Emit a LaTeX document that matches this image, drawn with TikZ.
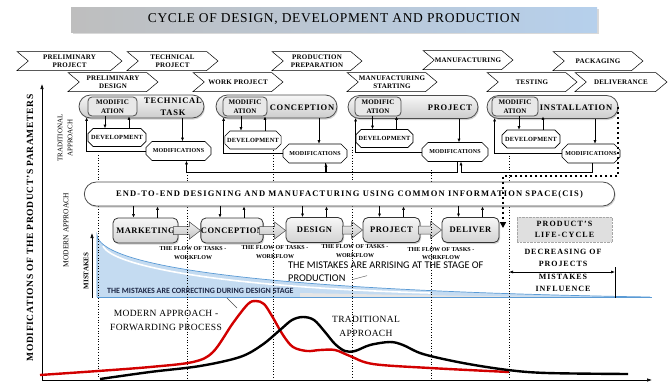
\documentclass[tikz,border=0pt]{standalone}
\usepackage{fontspec}
\setmainfont{Liberation Serif}
\newfontfamily\calfont{Carlito}
\usetikzlibrary{calc, arrows.meta, shapes.misc, shapes.symbols, shadows}

\definecolor{titlegray}{RGB}{190,190,190}
\definecolor{titleblue}{RGB}{182,208,236}
\definecolor{mistblue}{RGB}{196,219,241}
\definecolor{mistedge}{RGB}{91,155,213}
\definecolor{modred}{RGB}{210,0,0}
\definecolor{corrtext}{RGB}{30,40,70}

\newcommand\fs[2]{\fontsize{#1}{#2}\selectfont}
\newcommand\fatarrow[2]{%
  \path[flowarrow] let \p1=(#1), \p2=(#2) in
    (\x1,\y1+4pt) -- (\x2-11pt,\y1+4pt) -- (\x2-11pt,\y1+8.5pt) -- (\x2,\y1)
    -- (\x2-11pt,\y1-8.5pt) -- (\x2-11pt,\y1-4pt) -- (\x1,\y1-4pt) -- cycle;}

\tikzset{
    arr/.style={-{Latex[length=3.5pt, width=3pt]}, line width=0.6pt},
    axis/.style={-{Latex[length=5pt, width=3.5pt]}, line width=0.6pt},
    guide/.style={dotted, line width=0.7pt},
    bigdots/.style={line width=2pt, dash pattern=on 2pt off 3pt, -{Triangle[length=6pt, width=6pt]}},
    curve/.style={line width=2.4pt, line join=round},
    title/.style={left color=titlegray, right color=titleblue, minimum width=526pt, minimum height=25pt,
        drop shadow={opacity=0.3, shadow xshift=1.5pt, shadow yshift=-1.5pt},
        font=\fs{13.5}{14}\addfontfeature{LetterSpace=5}},
    stage/.style={signal, signal from=west, signal to=east, signal pointer angle=80, draw, line width=0.5pt,
        fill=white, inner sep=0.5pt, minimum height=19pt, minimum width=90pt, align=center,
        font=\bfseries\fs{7}{7.6}\addfontfeature{LetterSpace=3}},
    pill/.style={rounded rectangle, draw=gray!60!black, thick, top color=gray!6, bottom color=gray!40,
        drop shadow={opacity=0.35, shadow xshift=1pt, shadow yshift=-1.5pt}, minimum height=23pt, inner sep=0pt},
    pilltext/.style={align=center, inner sep=0pt, font=\bfseries\fs{8.5}{12}\addfontfeature{LetterSpace=9}},
    subbox/.style={rectangle, rounded corners=4pt, draw=gray!60!black, thick, fill=gray!18, minimum height=19pt,
        inner sep=0pt, align=center, font=\bfseries\fs{7}{8.5}\addfontfeature{LetterSpace=2}},
    devbox/.style={chamfered rectangle, chamfered rectangle sep=3pt, draw, line width=0.6pt, fill=white,
        minimum height=18pt, inner sep=0pt, font=\bfseries\fs{6.3}{7}\addfontfeature{LetterSpace=4}},
    modsbox/.style={chamfered rectangle, chamfered rectangle sep=4pt, draw, line width=0.6pt, fill=white,
        minimum height=19pt, inner sep=0pt, font=\bfseries\fs{6}{7}\addfontfeature{LetterSpace=2}},
    cisbox/.style={rounded rectangle, draw=gray!60!black, thick, fill=white,
        drop shadow={opacity=0.35, shadow xshift=1pt, shadow yshift=-1.5pt}, minimum height=24pt,
        font=\bfseries\fs{8.5}{9}\addfontfeature{LetterSpace=13.5}},
    task/.style={rectangle, rounded corners=5pt, draw=gray!40!black, thick, top color=gray!6, bottom color=gray!35,
        drop shadow={opacity=0.35, shadow xshift=1pt, shadow yshift=-1.5pt}, minimum height=25pt, inner sep=0pt,
        font=\bfseries\fs{8.5}{9}\addfontfeature{LetterSpace=6}},
    flowarrow/.style={draw=gray!55!black, line width=0.5pt, top color=gray!12, bottom color=gray!45},
    flowlabel/.style={align=center, inner sep=0pt, font=\bfseries\fs{6}{8.5}},
    lifebox/.style={rectangle, fill=gray!25, draw=gray!70, densely dotted, minimum width=95pt, minimum height=25pt,
        inner sep=0pt, align=center, font=\bfseries\fs{8}{11.5}\addfontfeature{LetterSpace=14}},
    curvelabel/.style={align=center, inner sep=0pt, font=\fs{9.5}{14}\addfontfeature{LetterSpace=3.5}}
}

\begin{document}
\begin{tikzpicture}[x=1pt, y=-1pt]
    \useasboundingbox (0,0) rectangle (672,389);

    % Title
    \node[title] (ttl) at (334,19.5) {CYCLE OF DESIGN, DEVELOPMENT AND PRODUCTION};

    % Stages of the cycle
    \node[stage, minimum width=105pt] (s1) at (69.5,61) {PRELIMINARY\\PROJECT};
    \node[stage, minimum width=91pt] (s2) at (172.5,61) {TECHNICAL\\PROJECT};
    \node[stage] (s3) at (317,61) {PRODUCTION\\PREPARATION};
    \node[stage] (s4) at (468,60) {MANUFACTURING};
    \node[stage] (s5) at (598,61) {PACKAGING};
    \node[stage] (s6) at (113,82) {PRELIMINARY\\DESIGN};
    \node[stage] (s7) at (238,82) {WORK PROJECT};
    \node[stage] (s8) at (392,82) {MANUFACTURING\\STARTING};
    \node[stage] (s9) at (532,82) {TESTING};
    \node[stage, minimum width=92pt] (s10) at (621,82) {DELIVERANCE};

    % Traditional approach
    \node[pill, minimum width=125pt] (trad1) at (141.5,106.5) {};
    \node[pill, minimum width=121pt] (trad2) at (276.5,106.5) {};
    \node[pill, minimum width=130pt] (trad3) at (413,107) {};
    \node[pill, minimum width=131pt] (trad4) at (552.5,107) {};
    \node[pilltext] (lab1) at (173,107) {TECHNICAL\\TASK};
    \node[pilltext] (lab2) at (302,108) {CONCEPTION};
    \node[pilltext] (lab3) at (450,108) {PROJECT};
    \node[pilltext] (lab4) at (576,108) {INSTALLATION};
    \node[subbox, minimum width=49pt] (sub1) at (112.5,106.5) {MODIFIC\\ATION};
    \node[subbox, minimum width=44pt] (sub2) at (245,106.5) {MODIFIC\\ATION};
    \node[subbox, minimum width=46pt] (sub3) at (378,106.5) {MODIFIC\\ATION};
    \node[subbox, minimum width=46pt] (sub4) at (515,106.5) {MODIFIC\\ATION};

    \node[devbox, minimum width=58pt] (dev1) at (117,137.5) {DEVELOPMENT};
    \node[devbox, minimum width=54pt] (dev2) at (253,140) {DEVELOPMENT};
    \node[devbox, minimum width=57pt] (dev3) at (384.5,138.5) {DEVELOPMENT};
    \node[devbox, minimum width=58pt] (dev4) at (531,139) {DEVELOPMENT};
    \node[modsbox, minimum width=65pt] (mods1) at (178.5,151) {MODIFICATIONS};
    \node[modsbox, minimum width=64pt] (mods2) at (315,153.5) {MODIFICATIONS};
    \node[modsbox, minimum width=66pt] (mods3) at (455,152) {MODIFICATIONS};
    \node[modsbox, minimum width=58pt] (mods4) at (591,153.5) {MODIFICATIONS};

    \foreach \i in {1,...,4}{
        \draw[arr] ($(dev\i.north |- sub\i.south)+(-12,0)$) -- ($(dev\i.north)+(-12,0)$);
        \draw[arr] ($(dev\i.north)+(12,0)$) -- ($(dev\i.north |- sub\i.south)+(12,0)$);
        \draw[arr] ($(mods\i.north |- trad\i.south)+(4,0)$) -- ($(mods\i.north)+(4,0)$);
        \draw[arr] (mods\i.west) -| ($(trad\i.west |- trad\i.south)+(8,-1)$);
    }
    \draw[arr] ($(mods2.south)+(10,0)$) -- ++(0,9) -| ($(mods1.south)+(8,0)$);
    \draw[arr] ($(mods3.south)+(2,0)$) -- ++(0,10) -| ($(mods2.south)+(11,0)$);
    \draw[arr] ($(mods4.south)+(1,0)$) -- ++(0,9) -| ($(mods3.south)+(6,0)$);

    % Mistakes
    \fill[mistblue] (97,297) -- (97,235) .. controls (100,262) and (220,290) .. (650,297) -- cycle;
    \fill[gray!20] (300,293) .. controls (400,295) and (480,296) .. (560,297) -- (300,297) -- cycle;
    \draw[white, line width=1.6pt] (103,246) .. controls (112,266) and (220,287) .. (430,293);
    \draw[mistedge, line width=0.7pt] (97,297) -- (97,235) .. controls (100,262) and (220,290) .. (650,297);
    \draw[mistedge, line width=0.7pt] (97,297) -- (652,297);

    % Modern approach
    \node[task, minimum width=65pt] (mkt) at (145.5,230.5) {MARKETING};
    \node[task, minimum width=60pt] (con) at (232,230.5) {CONCEPTION};
    \node[task, minimum width=57pt] (des) at (314.5,230) {DESIGN};
    \node[task, minimum width=57pt] (prj) at (391.5,230) {PROJECT};
    \node[task, minimum width=57pt] (dlv) at (470.5,230) {DELIVER};
    \fatarrow{$(mkt.east)+(-5,0)$}{con.west}
    \fatarrow{$(con.east)+(-4,0)$}{des.west}
    \fatarrow{$(des.east)+(-1,0)$}{prj.west}
    \fatarrow{$(prj.east)+(-2,0)$}{dlv.west}

    \foreach \gx/\gy in {98/155, 187/175, 273/150, 352/147, 431/170, 509/153}
        \draw[guide] (\gx,\gy) -- (\gx,379);

    \node[cisbox, minimum width=537pt] (cis) at (349.5,194) {END-TO-END DESIGNING AND MANUFACTURING USING COMMON INFORMATION SPACE(CIS)};
    \foreach \t in {mkt,con,des,prj,dlv}{
        \draw[arr] ($(cis.south -| \t.north)+(-12,0)$) -- ($(\t.north)+(-12,0)$);
        \draw[arr] ($(\t.north)+(12,0)$) -- ($(cis.south -| \t.north)+(12,0)$);
    }
    \node[flowlabel] (flow1) at (193,253) {THE FLOW OF TASKS -\\WORKFLOW};
    \node[flowlabel] (flow2) at (275,252) {THE FLOW OF TASKS -\\WORKFLOW};
    \node[flowlabel] (flow3) at (355,251) {THE FLOW OF TASKS -\\WORKFLOW};
    \node[flowlabel] (flow4) at (441,253.5) {THE FLOW OF TASKS -\\WORKFLOW};

    \coordinate (hd1) at (617,176);
    \coordinate (hd2) at (503,176);
    \coordinate (hd3) at (503,228);
    \draw[bigdots] (trad4.east) -- (trad4.east |- hd1) -- (hd2) -- (hd3);

    \node[anchor=north west, align=left, inner sep=0pt, font=\calfont\fs{10.3}{12.5}] (arise) at (288,262)
        {THE MISTAKES ARE ARRISING AT THE STAGE OF\\PRODUCTION};
    \draw[gray!60!black, thin] ($(arise.south west)+(64,-2)$) -- ++(15,-4);
    \node[anchor=west, inner sep=0pt, font=\calfont\bfseries\fs{8}{8}, text=corrtext] (corr) at (107,291)
        {THE MISTAKES ARE CORRECTING DURING DESIGN STAGE};
    \draw[gray!60!black, thin] (227,298) -- (237,308);

    % Product's life-cycle
    \node[lifebox] (life) at (564.5,229.5) {PRODUCT'S\\LIFE-CYCLE};
    \node[align=center, inner sep=0pt, font=\bfseries\fs{8}{12.4}\addfontfeature{LetterSpace=12}] (decr) at (563,270.5)
        {DECREASING OF\\PROJECTS\\MISTAKES\\INFLUENCE};
    \coordinate (lc1) at (509,272);
    \coordinate (lc2) at (615,272);
    \draw[{Latex[length=4pt, width=3pt]}-{Latex[length=4pt, width=3pt]}, line width=0.6pt] (lc1) -- (lc2);
    \draw[line width=0.6pt] (615,267) -- (615,298);

    % Axes and curves
    \coordinate (orig) at (42,380);
    \draw[axis] (orig) -- (42,84);
    \draw[axis] (orig) -- (652,380);
    \draw[axis] (92,298) -- (92,233);
    \node[rotate=90, inner sep=0pt, font=\bfseries\fs{7}{7}] (mistlab) at (86,271) {MISTAKES};

    \draw[curve, modred] plot[smooth, tension=0.55] coordinates {(40,375) (98,371) (150,367) (193,362) (213,352)
        (233,323) (248,304) (256,301) (264,304) (272,316) (283,335) (293,347) (307,351) (320,350) (335,350)
        (350,356) (373,364) (430,368) (509,372)};
    \draw[curve, black] plot[smooth, tension=0.55] coordinates {(100,379) (150,372) (200,366) (240,357) (262,345)
        (280,330) (292,320) (303,317) (314,320) (325,332) (335,344) (345,351) (355,351) (370,345) (390,342)
        (403,345) (423,354) (463,363) (508,370) (547,373) (628,374)};

    \node[curvelabel] (modlab) at (166,320) {MODERN APPROACH -\\FORWARDING PROCESS};
    \node[curvelabel] (tradlab) at (366,326) {TRADITIONAL\\APPROACH};

    \node[rotate=90, inner sep=0pt, font=\bfseries\fs{9.5}{10}\addfontfeature{LetterSpace=7}] (ylab) at (30,228)
        {MODIFICATIONS OF THE PRODUCT'S PARAMETERS};
    \node[rotate=90, align=center, inner sep=0pt, font=\fs{7}{10}] (tradap) at (65,138) {TRADITIONAL\\APPROACH};
    \node[rotate=90, inner sep=0pt, font=\fs{7.5}{8}] (modap) at (66,230) {MODERN APPROACH};
\end{tikzpicture}
\end{document}
